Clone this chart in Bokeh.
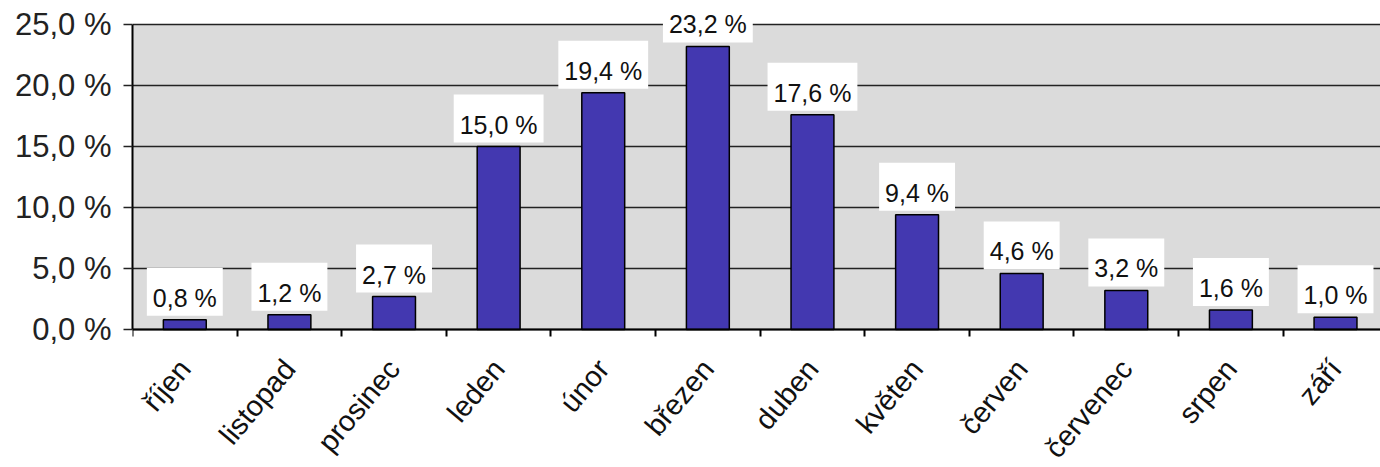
from bokeh.plotting import figure
from bokeh.models import Range1d, FixedTicker, Label, ColumnDataSource, BoxAnnotation
from bokeh.embed import file_html
from bokeh.resources import INLINE
import math

# Monthly shares (%) from October to September
months = ["říjen", "listopad", "prosinec", "leden", "únor", "březen",
          "duben", "květen", "červen", "červenec", "srpen", "září"]
shares = [0.8, 1.2, 2.7, 15.0, 19.4, 23.2, 17.6, 9.4, 4.6, 3.2, 1.6, 1.0]
y_ticks = [0, 5, 10, 15, 20, 25]


def cz_pct(v):
    return f"{v:.1f}".replace(".", ",") + " %"


centers = [i + 0.5 for i in range(len(months))]
bounds = [i for i in range(len(months) + 1)]
y_top = y_ticks[-1]

FONT = "Liberation Sans"

# The frame reaches the bottom of the page so the slanted month names
# have room; the category axis itself sits on the zero line.
p = figure(width=1380, height=467, output_backend="svg", toolbar_location=None,
           x_range=Range1d(0, 11.93), y_range=Range1d(-11.31, 26.475),
           min_border_left=132, min_border_top=6, min_border_bottom=0,
           min_border_right=0)
p.background_fill_color = "white"
p.border_fill_color = "white"
p.outline_line_color = None

# grey plotting area between 0 and 25 %, drawn beneath the grid
p.add_layout(BoxAnnotation(bottom=0, top=y_top, fill_color="#dbdbdb", fill_alpha=1.0,
                           line_color=None, level="image"))

# horizontal grid
p.xgrid.grid_line_color = None
p.ygrid.ticker = FixedTicker(ticks=y_ticks)
p.ygrid.grid_line_color = "#222222"
p.ygrid.grid_line_width = 1.6

# y axis
p.yaxis.bounds = (0, y_top)
p.yaxis.ticker = FixedTicker(ticks=y_ticks)
p.yaxis.major_label_overrides = {t: cz_pct(t) for t in y_ticks}
p.yaxis.major_label_text_font = FONT
p.yaxis.major_label_text_font_size = "31px"
p.yaxis.major_label_text_color = "#222222"
p.yaxis.major_tick_out = 9
p.yaxis.major_tick_in = 0
p.yaxis.minor_tick_line_color = None
p.yaxis.major_label_standoff = 12
p.yaxis.axis_line_color = "black"
p.yaxis.axis_line_width = 2
p.yaxis.major_tick_line_color = "#222222"
p.yaxis.major_tick_line_width = 1.6

# x axis on the zero line: names at category centres, ticks at boundaries
p.xaxis.fixed_location = 0
p.xaxis.ticker = FixedTicker(ticks=centers, minor_ticks=bounds)
p.xaxis.major_label_overrides = {c: m for c, m in zip(centers, months)}
p.xaxis.major_label_orientation = 50 * math.pi / 180
p.xaxis.major_label_text_font = FONT
p.xaxis.major_label_text_font_size = "29px"
p.xaxis.major_label_text_color = "#111111"
p.xaxis.major_label_standoff = 27
p.xaxis.major_tick_line_color = None
p.xaxis.minor_tick_out = 7
p.xaxis.minor_tick_in = 0
p.xaxis.minor_tick_line_color = "black"
p.xaxis.minor_tick_line_width = 2
p.xaxis.axis_line_color = "black"
p.xaxis.axis_line_width = 2

src = ColumnDataSource(dict(x=centers, top=shares))

p.vbar(x="x", top="top", width=0.41, bottom=0, source=src,
       fill_color="#4338b0", line_color="black", line_width=1.5)

# value labels on white boxes above each bar
for c, v in zip(centers, shares):
    p.add_layout(Label(x=c, y=v, text=cz_pct(v), text_align="center",
                       text_baseline="bottom", y_offset=4,
                       text_font=FONT, text_font_size="25px",
                       text_color="#111111",
                       background_fill_color="white",
                       padding=dict(left=6, right=6, top=16, bottom=4)))

open("out.html", "w").write(file_html(p, INLINE))
